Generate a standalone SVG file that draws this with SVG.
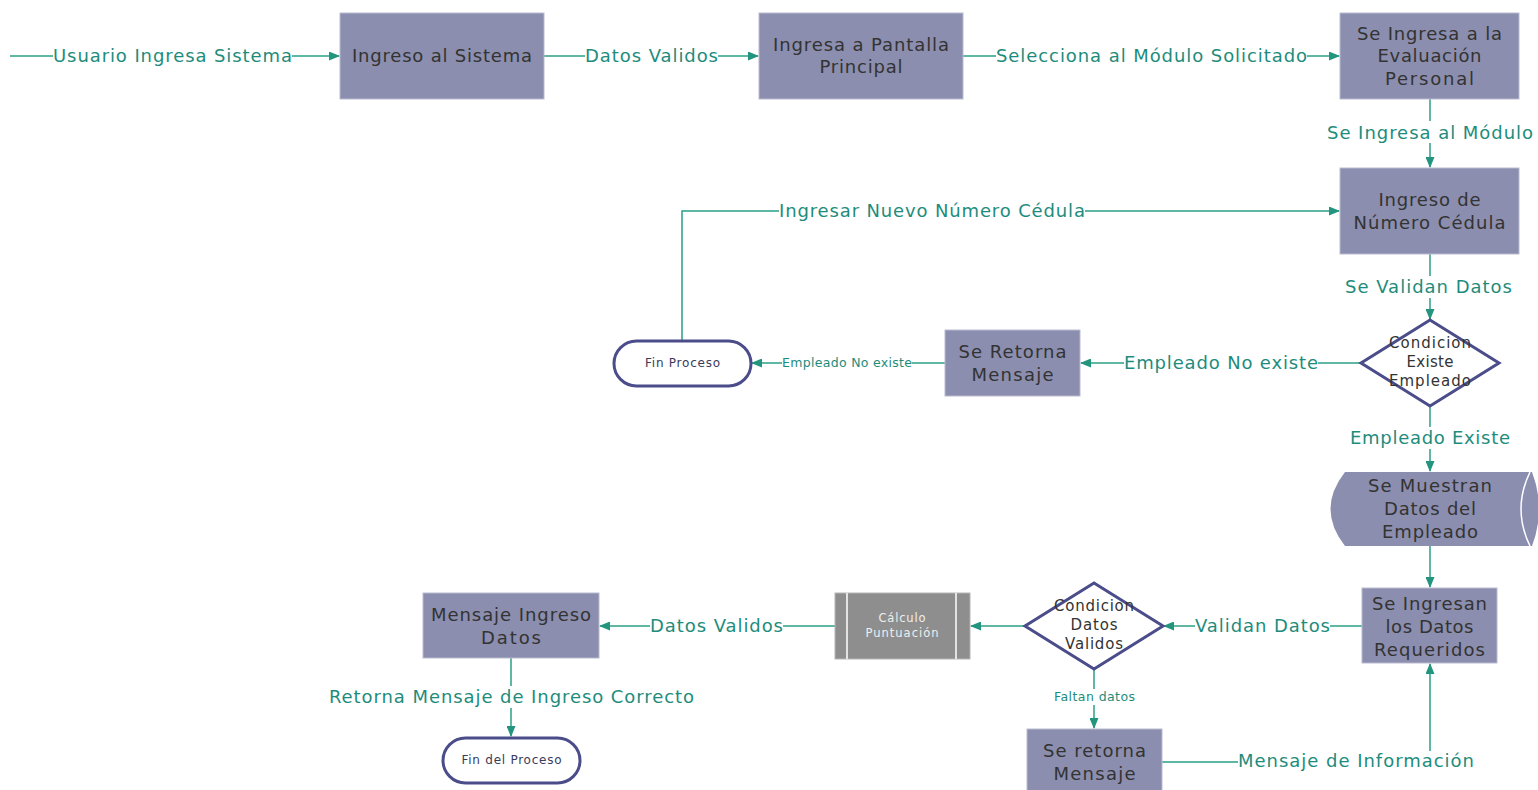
<svg xmlns="http://www.w3.org/2000/svg" width="1538" height="790" viewBox="0 0 1538 790">
  <style>
    .box { fill: #8B8EAE; stroke: #B9BBD0; stroke-width: 1; }
    .term { fill: #ffffff; stroke: #4B4D8A; stroke-width: 3; }
    .dia { fill: #ffffff; stroke: #4B4D8A; stroke-width: 3; }
    .pre { fill: #8E8E8E; stroke: #B5B5B5; stroke-width: 1; }
    .t { font-family: "DejaVu Sans", "Liberation Sans", sans-serif; font-size: 18px; fill: #333333; text-anchor: middle; }
    .ts { font-family: "DejaVu Sans", "Liberation Sans", sans-serif; font-size: 15px; fill: #333333; text-anchor: middle; }
    .tw { font-family: "DejaVu Sans", "Liberation Sans", sans-serif; font-size: 11.5px; fill: #EEEEEE; text-anchor: middle; }
    .tt { font-family: "DejaVu Sans", "Liberation Sans", sans-serif; font-size: 12px; fill: #3A3A5A; text-anchor: middle; }
    .edge { fill: none; stroke: #2A9F86; stroke-width: 1.5; }
    .lbl { font-family: "DejaVu Sans", "Liberation Sans", sans-serif; font-size: 18px; fill: #1E8C7C; text-anchor: middle; }
    .lbls { font-family: "DejaVu Sans", "Liberation Sans", sans-serif; font-size: 12.5px; fill: #1E8C7C; text-anchor: middle; }
    .bg { fill: #ffffff; }
  </style>
  <defs>
    <marker id="arrow" markerUnits="userSpaceOnUse" markerWidth="11" markerHeight="9" refX="10" refY="4.5" orient="auto">
      <path d="M0,0 L11,4.5 L0,9 Z" fill="#23957E"/>
    </marker>
  </defs>
  <rect width="1538" height="790" fill="#ffffff"/>

  <!-- connectors -->
  <g id="connectors">
    <path class="edge" d="M10,56 H339" marker-end="url(#arrow)"/>
    <path class="edge" d="M544,56 H758" marker-end="url(#arrow)"/>
    <path class="edge" d="M963,56 H1339" marker-end="url(#arrow)"/>
    <path class="edge" d="M1430,99 V167" marker-end="url(#arrow)"/>
    <path class="edge" d="M682,340 V211 H1339" marker-end="url(#arrow)"/>
    <path class="edge" d="M1430,254 V319" marker-end="url(#arrow)"/>
    <path class="edge" d="M1361,363 H1081" marker-end="url(#arrow)"/>
    <path class="edge" d="M945,363 H752" marker-end="url(#arrow)"/>
    <path class="edge" d="M1430,406 V471" marker-end="url(#arrow)"/>
    <path class="edge" d="M1430,546 V587" marker-end="url(#arrow)"/>
    <path class="edge" d="M1362,626 H1164" marker-end="url(#arrow)"/>
    <path class="edge" d="M1025,626 H971" marker-end="url(#arrow)"/>
    <path class="edge" d="M835,626 H600" marker-end="url(#arrow)"/>
    <path class="edge" d="M1094,669 V728" marker-end="url(#arrow)"/>
    <path class="edge" d="M1162,762 H1430 V664" marker-end="url(#arrow)"/>
    <path class="edge" d="M511,658 V736" marker-end="url(#arrow)"/>

    <!-- connector labels -->
    <rect class="bg" x="53" y="46" width="239" height="20"/>
    <text class="lbl" x="172.5" y="62" textLength="239" lengthAdjust="spacing">Usuario Ingresa Sistema</text>
    <rect class="bg" x="585" y="46" width="133" height="20"/>
    <text class="lbl" x="651.5" y="62" textLength="133" lengthAdjust="spacing">Datos Validos</text>
    <rect class="bg" x="996" y="46" width="311" height="20"/>
    <text class="lbl" x="1151.5" y="62" textLength="311" lengthAdjust="spacing">Selecciona al Módulo Solicitado</text>
    <rect class="bg" x="1327" y="121" width="206" height="22"/>
    <text class="lbl" x="1430" y="139" textLength="206" lengthAdjust="spacing">Se Ingresa al Módulo</text>
    <rect class="bg" x="779" y="201" width="306" height="20"/>
    <text class="lbl" x="932" y="217" textLength="306" lengthAdjust="spacing">Ingresar Nuevo Número Cédula</text>
    <rect class="bg" x="1345" y="276" width="167" height="22"/>
    <text class="lbl" x="1428.5" y="293" textLength="167" lengthAdjust="spacing">Se Validan Datos</text>
    <rect class="bg" x="1124" y="353" width="194" height="20"/>
    <text class="lbl" x="1221" y="369" textLength="194" lengthAdjust="spacing">Empleado No existe</text>
    <rect class="bg" x="782" y="355" width="130" height="15"/>
    <text class="lbls" x="847" y="367" textLength="130" lengthAdjust="spacing">Empleado No existe</text>
    <rect class="bg" x="1350" y="427" width="160" height="22"/>
    <text class="lbl" x="1430" y="444" textLength="160" lengthAdjust="spacing">Empleado Existe</text>
    <rect class="bg" x="1195" y="616" width="135" height="20"/>
    <text class="lbl" x="1262.5" y="632" textLength="135" lengthAdjust="spacing">Validan Datos</text>
    <rect class="bg" x="650" y="616" width="133" height="20"/>
    <text class="lbl" x="716.5" y="632" textLength="133" lengthAdjust="spacing">Datos Validos</text>
    <rect class="bg" x="1054" y="689" width="81" height="16"/>
    <text class="lbls" x="1094.5" y="701" font-size="12" textLength="81" lengthAdjust="spacing">Faltan datos</text>
    <rect class="bg" x="1238" y="751" width="236" height="20"/>
    <text class="lbl" x="1356" y="767" textLength="236" lengthAdjust="spacing">Mensaje de Información</text>
    <rect class="bg" x="329" y="686" width="365" height="22"/>
    <text class="lbl" x="511.5" y="703" textLength="365" lengthAdjust="spacing">Retorna Mensaje de Ingreso Correcto</text>
  </g>

  <!-- nodes -->
  <g id="ingreso-sistema">
    <rect class="box" x="340" y="13" width="204" height="86"/>
    <text class="t" x="442" y="62" textLength="180" lengthAdjust="spacing">Ingreso al Sistema</text>
  </g>
  <g id="pantalla-principal">
    <rect class="box" x="759" y="13" width="204" height="86"/>
    <text class="t" x="861" y="51" textLength="176" lengthAdjust="spacing">Ingresa a Pantalla</text>
    <text class="t" x="861" y="73" textLength="83" lengthAdjust="spacing">Principal</text>
  </g>
  <g id="evaluacion-personal">
    <rect class="box" x="1340" y="13" width="179" height="86"/>
    <text class="t" x="1429.5" y="40" textLength="145" lengthAdjust="spacing">Se Ingresa a la</text>
    <text class="t" x="1429.5" y="62" textLength="104" lengthAdjust="spacing">Evaluación</text>
    <text class="t" x="1429.5" y="85" textLength="89" lengthAdjust="spacing">Personal</text>
  </g>
  <g id="numero-cedula">
    <rect class="box" x="1340" y="168" width="179" height="86"/>
    <text class="t" x="1429.5" y="206" textLength="102" lengthAdjust="spacing">Ingreso de</text>
    <text class="t" x="1429.5" y="229" textLength="152" lengthAdjust="spacing">Número Cédula</text>
  </g>
  <g id="existe-empleado">
    <polygon class="dia" points="1430,320 1499,363 1430,406 1361,363"/>
    <text class="ts" x="1430" y="348" textLength="82" lengthAdjust="spacing">Condicion</text>
    <text class="ts" x="1430" y="367" textLength="47" lengthAdjust="spacing">Existe</text>
    <text class="ts" x="1430" y="386" textLength="82" lengthAdjust="spacing">Empleado</text>
  </g>
  <g id="retorna-mensaje-1">
    <rect class="box" x="945" y="330" width="135" height="66"/>
    <text class="t" x="1012.5" y="358" textLength="108" lengthAdjust="spacing">Se Retorna</text>
    <text class="t" x="1012.5" y="381" textLength="82" lengthAdjust="spacing">Mensaje</text>
  </g>
  <g id="fin-proceso">
    <rect class="term" x="614" y="341" width="137" height="45" rx="22.5"/>
    <text class="tt" x="682.5" y="367" textLength="75" lengthAdjust="spacing">Fin Proceso</text>
  </g>
  <g id="datos-empleado">
    <path d="M1345,472 H1532 Q1546,509 1532,546 H1345 Q1316,509 1345,472 Z" fill="#8B8EAE"/>
    <path d="M1530,472 Q1512,509 1530,546" fill="none" stroke="#ffffff" stroke-width="1.5"/>
    <text class="t" x="1430" y="492" textLength="124" lengthAdjust="spacing">Se Muestran</text>
    <text class="t" x="1430" y="515" textLength="92" lengthAdjust="spacing">Datos del</text>
    <text class="t" x="1430" y="538" textLength="96" lengthAdjust="spacing">Empleado</text>
  </g>
  <g id="datos-requeridos">
    <rect class="box" x="1362" y="588" width="135" height="75"/>
    <text class="t" x="1429.5" y="610" textLength="115" lengthAdjust="spacing">Se Ingresan</text>
    <text class="t" x="1429.5" y="633" textLength="88" lengthAdjust="spacing">los Datos</text>
    <text class="t" x="1429.5" y="656" textLength="111" lengthAdjust="spacing">Requeridos</text>
  </g>
  <g id="datos-validos">
    <polygon class="dia" points="1094,583 1163,626 1094,669 1025,626"/>
    <text class="ts" x="1094" y="611" textLength="80" lengthAdjust="spacing">Condicion</text>
    <text class="ts" x="1094" y="630" textLength="47" lengthAdjust="spacing">Datos</text>
    <text class="ts" x="1094" y="649" textLength="58" lengthAdjust="spacing">Validos</text>
  </g>
  <g id="calculo-puntuacion">
    <rect class="pre" x="835" y="593" width="135" height="66"/>
    <line x1="847" y1="593" x2="847" y2="659" stroke="#ffffff" stroke-width="1.5"/>
    <line x1="956" y1="593" x2="956" y2="659" stroke="#ffffff" stroke-width="1.5"/>
    <text class="tw" x="902" y="622" textLength="47" lengthAdjust="spacing">Cálculo</text>
    <text class="tw" x="902" y="637" textLength="73" lengthAdjust="spacing">Puntuación</text>
  </g>
  <g id="mensaje-ingreso">
    <rect class="box" x="423" y="593" width="176" height="65"/>
    <text class="t" x="511" y="621" textLength="160" lengthAdjust="spacing">Mensaje Ingreso</text>
    <text class="t" x="511" y="644" textLength="60" lengthAdjust="spacing">Datos</text>
  </g>
  <g id="fin-del-proceso">
    <rect class="term" x="443" y="738" width="137" height="45" rx="22.5"/>
    <text class="tt" x="511.5" y="764" textLength="100" lengthAdjust="spacing">Fin del Proceso</text>
  </g>
  <g id="retorna-mensaje-2">
    <rect class="box" x="1027" y="729" width="135" height="66"/>
    <text class="t" x="1094.5" y="757" textLength="103" lengthAdjust="spacing">Se retorna</text>
    <text class="t" x="1094.5" y="780" textLength="82" lengthAdjust="spacing">Mensaje</text>
  </g>
</svg>
